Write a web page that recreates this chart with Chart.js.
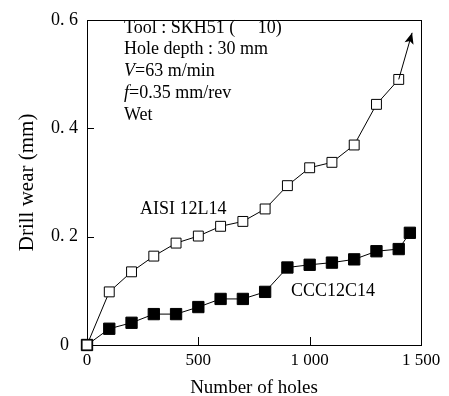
<!DOCTYPE html>
<html lang="en">
<head>
    <meta charset="UTF-8">
    <title>Drill wear</title>
    <script src="https://cdn.jsdelivr.net/npm/chart.js"></script>
    <style>
        html, body { margin: 0; padding: 0; background: #fff; }
        #wrap { width: 449px; height: 396px; }
    </style>
</head>
<body>
    <div id="wrap"><canvas id="wearChart" width="449" height="396"></canvas></div>
    <script>
        // values
        const aisiHoles = [0, 100, 200, 300, 400, 500, 600, 700, 800, 900, 1000, 1100, 1200, 1300, 1400];
        const aisiWear = [0, 0.098, 0.135, 0.164, 0.188, 0.201, 0.219, 0.228, 0.251, 0.294, 0.327, 0.337, 0.369, 0.444, 0.490];
        const cccHoles = [0, 100, 200, 300, 400, 500, 600, 700, 800, 900, 1000, 1100, 1200, 1300, 1400, 1450];
        const cccWear = [0, 0.030, 0.041, 0.057, 0.057, 0.070, 0.085, 0.085, 0.098, 0.143, 0.148, 0.152, 0.158, 0.173, 0.177, 0.207];
        const arrowHoles = [1400, 1460];
        const arrowWear = [0.490, 0.576];
        const xTicks = [0, 500, 1000, 1500];
        const yTicks = [0, 0.2, 0.4, 0.6];

        const serif = '"Liberation Serif", "DejaVu Serif", serif';

        function toPoints(xs, ys) {
            return xs.map((x, i) => ({ x: x, y: ys[i] }));
        }

        // frame, inward ticks, arrow head and text labels
        const decorations = {
            id: 'decorations',
            beforeDatasetsDraw(chart) {
                const ctx = chart.ctx;
                const a = chart.chartArea;
                const xs = chart.scales.x, ys = chart.scales.y;
                ctx.save();
                ctx.strokeStyle = '#000';
                ctx.lineWidth = 1;
                ctx.strokeRect(Math.round(a.left) + 0.5, Math.round(a.top) + 0.5,
                    Math.round(a.right - a.left), Math.round(a.bottom - a.top));
                ctx.beginPath();
                xTicks.slice(1, -1).forEach(v => {
                    const px = Math.round(xs.getPixelForValue(v)) + 0.5;
                    ctx.moveTo(px, a.bottom);
                    ctx.lineTo(px, a.bottom - 8);
                });
                yTicks.slice(1, -1).forEach(v => {
                    const py = Math.round(ys.getPixelForValue(v)) + 0.5;
                    ctx.moveTo(a.left, py);
                    ctx.lineTo(a.left + 7, py);
                });
                ctx.stroke();
                ctx.restore();
            },
            afterDatasetsDraw(chart) {
                const ctx = chart.ctx;
                const xs = chart.scales.x, ys = chart.scales.y;
                // arrow head
                const x0 = xs.getPixelForValue(arrowHoles[0]), y0 = ys.getPixelForValue(arrowWear[0]);
                const x1 = xs.getPixelForValue(arrowHoles[1]), y1 = ys.getPixelForValue(arrowWear[1]);
                const ang = Math.atan2(y1 - y0, x1 - x0);
                const len = 12, spread = 0.4;
                ctx.save();
                ctx.fillStyle = '#000';
                ctx.beginPath();
                ctx.moveTo(x1, y1);
                ctx.lineTo(x1 - len * Math.cos(ang - spread), y1 - len * Math.sin(ang - spread));
                ctx.lineTo(x1 - len * 0.7 * Math.cos(ang), y1 - len * 0.7 * Math.sin(ang));
                ctx.lineTo(x1 - len * Math.cos(ang + spread), y1 - len * Math.sin(ang + spread));
                ctx.closePath();
                ctx.fill();

                // condition text
                ctx.textBaseline = 'middle';
                ctx.textAlign = 'left';
                const plain = '18px ' + serif, ital = 'italic 18px ' + serif;
                function parts(list, x, y) {
                    list.forEach(p => {
                        ctx.font = p[1] ? ital : plain;
                        ctx.fillText(p[0], x, y);
                        x += ctx.measureText(p[0]).width;
                    });
                }
                parts([['Tool : SKH51 (     10)', false]], 124, 28);
                parts([['Hole depth : 30 mm', false]], 124, 49);
                parts([['V', true], ['=63 m/min', false]], 124, 71);
                parts([['f', true], ['=0.35 mm/rev', false]], 124, 93);
                parts([['Wet', false]], 124, 115);

                ctx.font = plain;
                ctx.fillText('AISI 12L14', 140, 209);
                ctx.fillText('CCC12C14', 291, 291);
                ctx.restore();
            }
        };

        const lineStyle = {
            borderColor: '#000',
            borderWidth: 1,
            showLine: true,
            pointStyle: 'rect',
            pointRadius: 7,
            pointBorderWidth: 1,
            pointBorderColor: '#000',
            clip: false
        };

        const ctx = document.getElementById('wearChart').getContext('2d');
        const wearChart = new Chart(ctx, {
            type: 'scatter',
            data: {
                datasets: [
                    {
                        label: 'arrow',
                        data: toPoints(arrowHoles, arrowWear),
                        borderColor: '#000',
                        borderWidth: 1,
                        showLine: true,
                        clip: false,
                        pointRadius: 0
                    },
                    Object.assign({}, lineStyle, {
                        label: 'AISI 12L14',
                        data: toPoints(aisiHoles, aisiWear),
                        pointBackgroundColor: '#fff'
                    }),
                    Object.assign({}, lineStyle, {
                        label: 'CCC12C14',
                        data: toPoints(cccHoles, cccWear),
                        pointBackgroundColor: '#000',
                        pointRadius: 8
                    })
                ]
            },
            options: {
                responsive: false,
                animation: false,
                layout: { padding: { top: 10, right: 28, left: 0, bottom: 0 } },
                plugins: {
                    legend: { display: false },
                    tooltip: { enabled: false }
                },
                scales: {
                    x: {
                        type: 'linear',
                        min: 0,
                        max: 1500,
                        afterBuildTicks: s => { s.ticks = xTicks.map(v => ({ value: v })); },
                        afterFit: s => { s.height = 51; },
                        grid: { display: false, drawTicks: false },
                        border: { display: false },
                        ticks: {
                            color: '#000',
                            padding: 5,
                            font: { family: serif, size: 17 },
                            callback: v => v >= 1000 ? Math.floor(v / 1000) + ' ' + String(v % 1000).padStart(3, '0') : String(v)
                        },
                        title: {
                            display: true,
                            text: 'Number of holes',
                            color: '#000',
                            padding: { top: 0, bottom: 0 },
                            font: { family: serif, size: 19, lineHeight: 0.82 }
                        }
                    },
                    y: {
                        type: 'linear',
                        min: 0,
                        max: 0.6,
                        afterBuildTicks: s => { s.ticks = yTicks.map(v => ({ value: v })); },
                        afterFit: s => { s.width = 87; },
                        grid: { display: false, drawTicks: false },
                        border: { display: false },
                        ticks: {
                            color: '#000',
                            padding: 9,
                            crossAlign: 'center',
                            font: { family: serif, size: 18 },
                            callback: v => v === 0 ? '0' : v.toFixed(1).replace('.', '. ')
                        },
                        title: {
                            display: true,
                            text: 'Drill wear (mm)',
                            color: '#000',
                            padding: { top: 17, bottom: 0 },
                            font: { family: serif, size: 21, lineHeight: 1 }
                        }
                    }
                }
            },
            plugins: [decorations]
        });
    </script>
</body>
</html>
